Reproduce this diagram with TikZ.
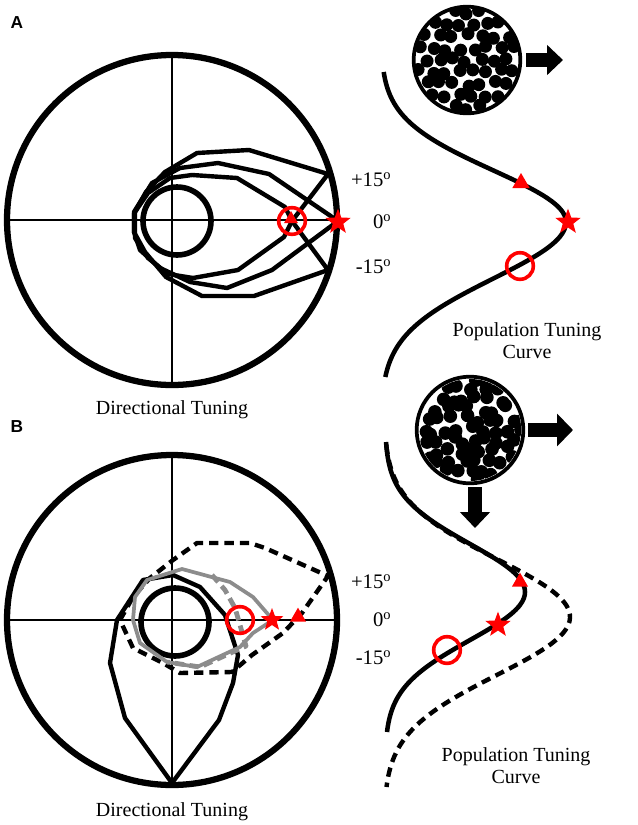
\documentclass[tikz,border=0pt]{standalone}
\usepackage{fontspec}
\setmainfont{Liberation Serif}
\setsansfont{Liberation Sans}
\usetikzlibrary{shapes.geometric,arrows.meta}

\begin{document}
\begin{tikzpicture}[x=0.75pt,y=-0.75pt,
    dial/.style={circle,draw,line width=4.7pt,minimum size=247.5pt,inner sep=0pt,outer sep=0pt},
    hub/.style={circle,draw,line width=4.2pt,minimum size=51pt,inner sep=0pt},
    pool/.style={circle,draw,line width=2.8pt,minimum size=80pt,inner sep=0pt,outer sep=0pt},
    axis/.style={line width=1.8pt},
    tune/.style={line width=3.3pt,line join=round},
    greytune/.style={line width=2.8pt,line join=round,draw=black!45},
    dashtune/.style={line width=3.3pt,dash pattern=on 7pt off 4.5pt},
    popcurve/.style={line width=3.4pt},
    ring/.style={circle,draw=red,line width=2.7pt,minimum size=20pt,inner sep=0pt},
    starmark/.style={star,star points=5,star point ratio=2.4,fill=red,minimum size=20pt,inner sep=0pt},
    tri/.style={regular polygon,regular polygon sides=3,fill=red,minimum size=15pt,inner sep=0pt},
    blockarrow/.style={line width=11pt,-{Triangle[length=12pt,width=22pt]}},
    lab/.style={font=\fontsize{15}{16.5}\selectfont},
    deg/.style={font=\fontsize{15.5}{16.5}\selectfont,anchor=east},
    panel/.style={font=\sffamily\bfseries\fontsize{13}{15}\selectfont}]
  \useasboundingbox (0,0) rectangle (638,825);

  % panel A
  \node[panel] (labA) at (17,23) {A};
  \node[dial] (dirA) at (172,220) {};
  \draw[axis] (dirA.west) -- (dirA.east);
  \draw[axis] (dirA.north) -- (dirA.south);
  \node[hub] (hubA) at (177,221) {};
  \draw[tune] (134,214) -- (146,192) -- (165,172) -- (197,153) -- (249,150) -- (328,174)
    -- (292,221) -- (328,270) -- (254,296) -- (202,296) -- (166,277) -- (145,252) -- (134,232) -- cycle;
  \draw[tune] (134,212) -- (152,183) -- (180,168) -- (218,163) -- (269,174) -- (338,221)
    -- (272,270) -- (227,288) -- (190,282) -- (160,268) -- (140,250) -- (134,232) -- cycle;
  \draw[tune] (135,212) -- (148,193) -- (170,178) -- (192,175) -- (237,178) -- (285,207)
    -- (292,221) -- (284,237) -- (238,270) -- (193,278) -- (168,274) -- (148,258) -- (135,238) -- cycle;
  \node[ring] (ringA) at (292,221) {};
  \node[tri,minimum size=12pt] (triA) at (291,219) {};
  \node[starmark] (starA) at (338,222) {};
  \node[lab] (dirtextA) at (172,410) {Directional Tuning};

  \node[deg] (plusA) at (396,180) {+15\textsuperscript{o}};
  \node[deg] (zeroA) at (396,222) {0\textsuperscript{o}};
  \node[deg] (minusA) at (396,267) {-15\textsuperscript{o}};

  \node[pool] (poolA) at (467,60) {};
  \begin{scope}
    \clip (poolA.center) circle (52);
    \pgfmathsetseed{11}
    \foreach \i in {-5,...,5}{
      \foreach \j in {-5,...,5}{
        \pgfmathsetmacro\px{13.5*\i+6.75*abs(mod(\j,2))+6*rnd-3}
        \pgfmathsetmacro\py{11.7*\j+6*rnd-3}
        \pgfmathtruncatemacro\inside{(\px*\px+\py*\py<2600)?1:0}
        \ifnum\inside=1 \fill ([shift={(\px,\py)}]poolA.center) circle (6.5); \fi
      }
    }
  \end{scope}
  \coordinate (arrA) at (563,60);
  \draw[blockarrow] ([shift={(6,0)}]poolA.east) -- (arrA);

  \draw[popcurve] plot[domain=72:377,samples=90,smooth]
    ({381+185*exp(-((\x-222)/ifthenelse(\x<222,73,80))^2)},\x);
  \node[tri] (triPA) at (521,183) {};
  \node[starmark] (starPA) at (568,222) {};
  \node[ring] (ringPA) at (520,266) {};
  \node[lab,align=center] (poptextA) at (527,341) {Population Tuning\\Curve};

  % panel B
  \node[panel] (labB) at (17,427) {B};
  \node[dial] (dirB) at (172,620) {};
  \draw[axis] (dirB.west) -- (dirB.east);
  \draw[axis] (dirB.north) -- (dirB.south);
  \node[hub] (hubB) at (175,622) {};
  \draw[tune] (172,783) -- (125,718) -- (110,663) -- (117,620) -- (143,580) -- (173,575)
    -- (200,587) -- (225,615) -- (238,655) -- (233,683) -- (219,720) -- cycle;
  \draw[tune,dashtune] (120,620) -- (133,597) -- (150,578) -- (173,560) -- (197,543) -- (250,543)
    -- (265,548) -- (328,576) -- (302,613) -- (283,633) -- (252,655) -- (232,672) -- (180,673)
    -- (163,663) -- (133,648) -- cycle;
  \draw[greytune] (133,620) -- (135,597) -- (147,580) -- (182,569) -- (230,582) -- (253,597)
    -- (273,620) -- (253,633) -- (240,647) -- (197,667) -- (167,662) -- (140,643) -- cycle;
  \draw[greytune,line width=3.6pt,dash pattern=on 7pt off 4pt] (212,575) -- (225,590) -- (235,608)
    -- (240,625) -- (246,646) -- (200,667) -- (167,662);
  \node[ring] (ringB) at (240,620) {};
  \node[starmark,minimum size=18pt] (starB) at (272,620) {};
  \node[tri,minimum size=14pt] (triB) at (298,617) {};
  \node[lab] (dirtextB) at (172,812) {Directional Tuning};

  \node[deg] (plusB) at (396,582) {+15\textsuperscript{o}};
  \node[deg] (zeroB) at (396,620) {0\textsuperscript{o}};
  \node[deg] (minusB) at (396,658) {-15\textsuperscript{o}};

  \node[pool] (poolB) at (470,430) {};
  \begin{scope}
    \clip (poolB.center) circle (51);
    \pgfmathsetseed{5}
    \foreach \i in {-5,...,5}{
      \foreach \j in {-5,...,5}{
        \pgfmathsetmacro\px{12*\i+6*abs(mod(\j,2))+9*rnd-4.5}
        \pgfmathsetmacro\py{10.4*\j+9*rnd-4.5}
        \pgfmathtruncatemacro\inside{(\px*\px+\py*\py<2600)?1:0}
        \ifnum\inside=1 \fill ([shift={(\px,\py)}]poolB.center) circle (6.8); \fi
      }
    }
  \end{scope}
  \coordinate (arrBr) at (573,430);
  \coordinate (arrBd) at (475,528);
  \draw[blockarrow,-{Triangle[length=12pt,width=24pt]}] ([shift={(5,0)}]poolB.east) -- (arrBr);
  \draw[blockarrow] ([shift={(5,4)}]poolB.south) -- (arrBd);

  \draw[popcurve] plot[domain=442:732,samples=90,smooth]
    ({385+140*exp(-((\x-592)/68)^2)},\x);
  \draw[popcurve,dashtune] plot[domain=445:787,samples=90,smooth]
    ({384+186*exp(-((\x-617)/82)^2)},\x);
  \node[tri,minimum size=14pt] (triPB) at (520,582) {};
  \node[starmark] (starPB) at (498,625) {};
  \node[ring] (ringPB) at (447,650) {};
  \node[lab,align=center] (poptextB) at (516,766) {Population Tuning\\Curve};
\end{tikzpicture}
\end{document}
